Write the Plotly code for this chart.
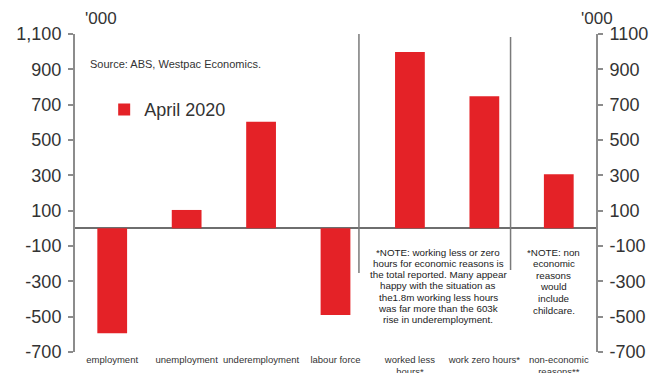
import plotly.graph_objects as go

categories = ["employment", "unemployment", "underemployment", "labour force",
              "worked less<br>hours*", "work zero hours*", "non-economic<br>reasons**"]
values_april_2020 = [-594, 104, 603, -490, 998, 748, 306]
tick_vals = [-700, -500, -300, -100, 100, 300, 500, 700, 900, 1100]
left_tick_text = ["-700", "-500", "-300", "-100", "100", "300", "500", "700", "900", "1,100"]
right_tick_text = ["-700", "-500", "-300", "-100", "100", "300", "500", "700", "900", "1100"]
series_name = "April 2020"

note1_lines = ["*NOTE: working less or zero", "hours for economic reasons is",
               "the total reported. Many appear", "happy with the situation as",
               "the1.8m working less hours", "was far more than the 603k",
               "rise in underemployment."]
note2_lines = ["*NOTE: non", "economic", "reasons", "would", "include", "childcare."]

RED = "#E42227"
GRAY = "#8c8c8c"
TXT = "#333333"
FONT = "Liberation Sans, Arial, sans-serif"

fig = go.Figure()
fig.add_trace(go.Bar(x=categories, y=values_april_2020, name=series_name,
                     marker=dict(color=RED, line=dict(width=0)), width=0.40))
fig.add_trace(go.Scatter(x=categories, y=values_april_2020, yaxis="y2",
                         mode="markers", marker=dict(opacity=0), showlegend=False,
                         hoverinfo="skip"))

# page has an 8px body margin: figure sized so it fits the 666x373 window
fig.update_layout(
    width=658, height=365,
    margin=dict(l=66.5, r=69.5, t=26, b=21, pad=0),
    paper_bgcolor="white", plot_bgcolor="white",
    font=dict(family=FONT, color=TXT),
    showlegend=True,
    legend=dict(x=0.056, y=0.762, xanchor="left", yanchor="middle",
                font=dict(size=18, color=TXT), bgcolor="rgba(0,0,0,0)",
                itemwidth=30),
    xaxis=dict(showline=False, showgrid=False, zeroline=False, ticks="",
               tickfont=dict(size=9.5, color=TXT), tickangle=0, automargin=False),
    yaxis=dict(range=[-700, 1100], tickvals=tick_vals, ticktext=left_tick_text,
               showgrid=False, zeroline=True, zerolinecolor="#6e6e6e", zerolinewidth=2,
               showline=True, linecolor=GRAY, linewidth=2, automargin=False,
               ticks="outside", ticklen=5, tickcolor=GRAY, tickwidth=1.5,
               tickfont=dict(size=18, color=TXT), ticklabelstandoff=3),
    yaxis2=dict(range=[-700, 1100], tickvals=tick_vals, ticktext=right_tick_text,
                overlaying="y", side="right", showgrid=False, zeroline=False,
                showline=True, linecolor=GRAY, linewidth=2, automargin=False,
                ticks="outside", ticklen=5, tickcolor=GRAY, tickwidth=1.5,
                tickfont=dict(size=18, color=TXT), ticklabelstandoff=3),
)

# separators
fig.add_shape(type="line", xref="paper", yref="y", x0=0.545, x1=0.545, y0=1100, y1=-253,
              line=dict(color="#7a7a7a", width=1.5))
fig.add_shape(type="line", xref="paper", yref="y", x0=0.836, x1=0.836, y0=1083, y1=-236,
              line=dict(color="#7a7a7a", width=1.5))


def px_to_paper(px, py):
    return (px - 74.5) / 522, 1 - (py - 34) / 318


for (tx, px, py) in [("'000", 101, 18), ("'000", 598, 18)]:
    x, y = px_to_paper(px, py)
    fig.add_annotation(text=tx, xref="paper", yref="paper", x=x, y=y,
                       xanchor="center", yanchor="middle", showarrow=False,
                       font=dict(size=17, color=TXT))

x, y = px_to_paper(88, 64)
fig.add_annotation(text="Source: ABS, Westpac Economics.", xref="paper", yref="paper",
                   x=x, y=y, xanchor="left", yanchor="middle",
                   showarrow=False, font=dict(size=11, color=TXT))

for i, line in enumerate(note1_lines):
    x, y = px_to_paper(438.5, 252 + 11.3 * i)
    fig.add_annotation(text=line, xref="paper", yref="paper", x=x, y=y,
                       xanchor="center", yanchor="middle", showarrow=False,
                       font=dict(size=9.8, color="#222222"))
for i, line in enumerate(note2_lines):
    x, y = px_to_paper(554, 252 + 11.6 * i)
    fig.add_annotation(text=line, xref="paper", yref="paper", x=x, y=y,
                       xanchor="center", yanchor="middle", showarrow=False,
                       font=dict(size=9.8, color="#222222"))

fig.write_html("out.html")
